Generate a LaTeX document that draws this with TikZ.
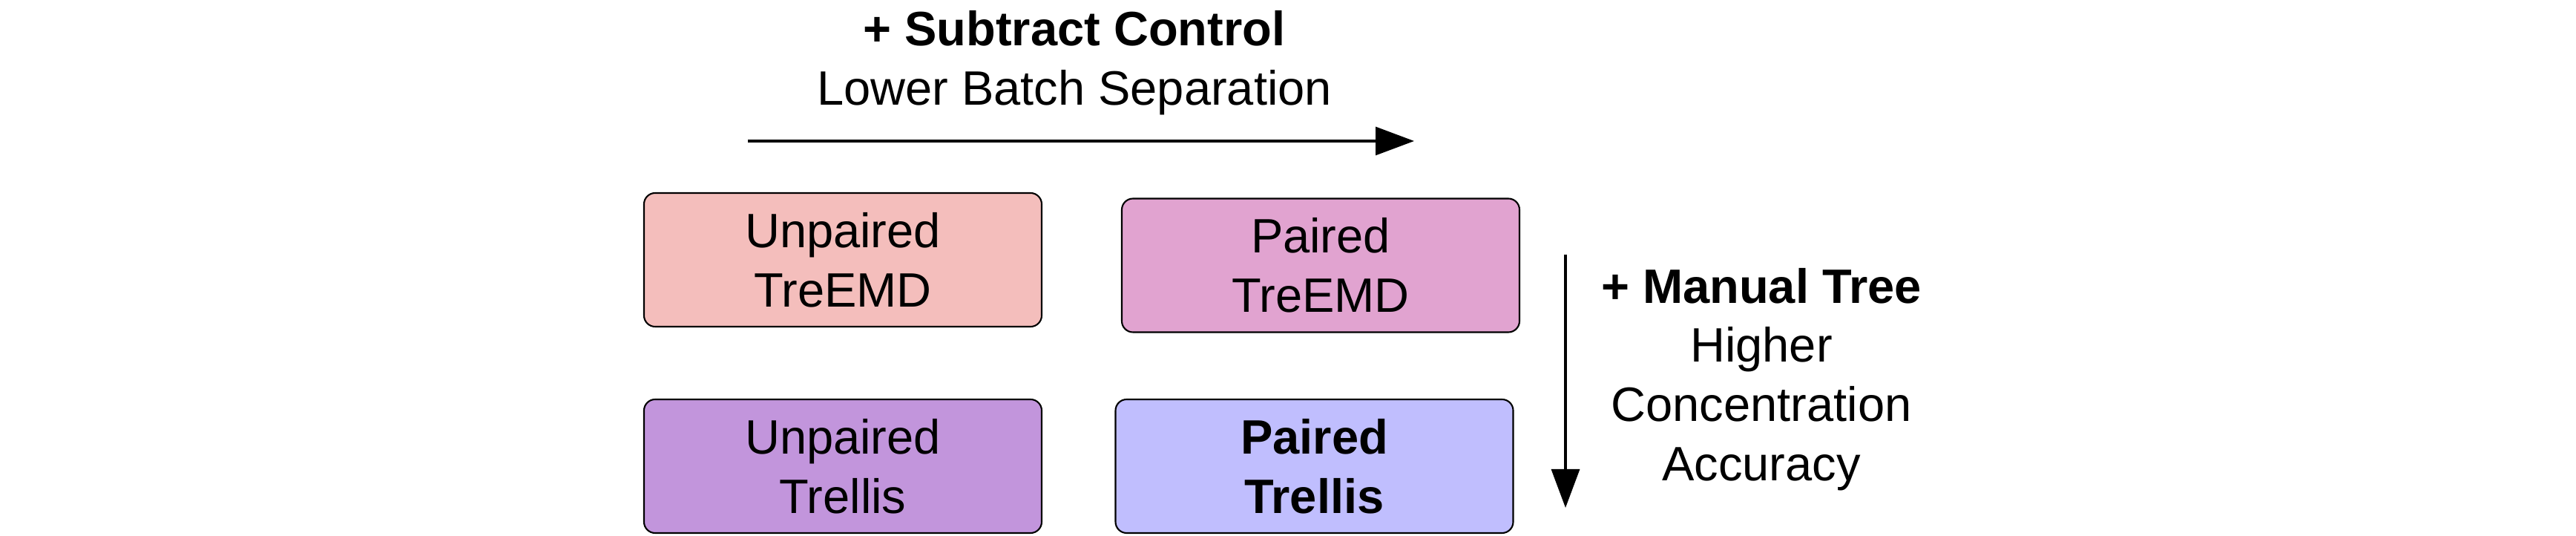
\documentclass[tikz,border=0pt]{standalone}
\usepackage{fontspec}
\setmainfont{Liberation Sans}
\usepackage{tikz}
\usetikzlibrary{arrows.meta, positioning}
\definecolor{unpairedpink}{RGB}{244, 190, 188}
\definecolor{pairedpink}{RGB}{225, 163, 208}
\definecolor{unpairedviolet}{RGB}{194, 149, 220}
\definecolor{pairedblue}{RGB}{192, 190, 254}
\tikzset{
  labeltext/.style={align=center, inner sep=0pt, font=\fontsize{18.5}{22.7}\selectfont},
  methodbox/.style={rectangle, rounded corners=0.15cm, draw=black, line width=0.6pt, minimum width=5.36cm, minimum height=1.8cm, inner sep=0pt, align=center, font=\fontsize{18.5}{22.7}\selectfont},
  trendarrow/.style={line width=0.9pt, -{Triangle[length=0.52cm, width=0.38cm]}}
}

\begin{document}
\begin{tikzpicture}
    \useasboundingbox (0, 0) rectangle (34.72, 7.22);

    % Subtract control (left to right)
    \node[labeltext] (subtract) at (14.48, 6.375) {\textbf{+ Subtract Control}\\Lower Batch Separation};
    \coordinate (hstart) at (10.08, 5.32);
    \coordinate (hend) at (19.06, 5.32);
    \draw[trendarrow] (hstart) -- (hend);

    % Grid of methods
    \node[methodbox, fill=unpairedpink] (UT) at (11.36, 3.72) {Unpaired\\TreEMD};
    \node[methodbox, fill=pairedpink] (PT) at (17.80, 3.645) {Paired\\TreEMD};
    \node[methodbox, fill=unpairedviolet] (UTr) at (11.36, 0.94) {Unpaired\\Trellis};
    \node[methodbox, fill=pairedblue] (PTr) at (17.715, 0.94) {\textbf{Paired}\\\textbf{Trellis}};

    % Manual tree (top to bottom)
    \coordinate (vstart) at (21.10, 3.79);
    \coordinate (vend) at (21.10, 0.38);
    \draw[trendarrow] (vstart) -- (vend);
    \node[labeltext] (manual) at (23.74, 2.11) {\textbf{+ Manual Tree}\\Higher\\Concentration\\Accuracy};
\end{tikzpicture}
\end{document}
